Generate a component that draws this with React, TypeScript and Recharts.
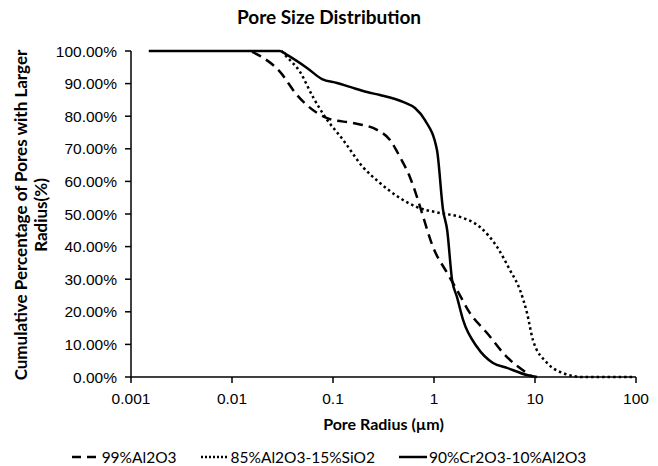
import { LineChart, Line, XAxis, YAxis } from 'recharts';

// pore radius (µm) and cumulative %
const alRadius = [0.0158, 0.0189, 0.0299, 0.044, 0.0695, 0.0933, 0.158, 0.273, 0.367, 0.46, 0.578, 0.679, 0.761, 0.977, 1.35, 1.69, 2.27, 3.35, 5.28, 8.34, 9.55];
const alPct = [99.7, 98.5, 93.6, 86.5, 81.0, 79.1, 77.9, 75.8, 72.7, 67.5, 61.3, 55.2, 50.3, 39.9, 31.9, 26.7, 19.6, 13.5, 6.1, 1.2, 0];

const siRadius = [0.031, 0.0335, 0.0471, 0.0633, 0.0834, 0.126, 0.198, 0.292, 0.46, 0.679, 1.15, 1.81, 2.85, 4.21, 5.65, 7.1, 8.34, 9.55, 13.2, 18.9, 29.9, 93.3];
const siPct = [100, 98.8, 93.6, 85.9, 79.8, 72.7, 64.4, 59.5, 54.9, 52.1, 50.3, 49.1, 46.0, 39.9, 32.8, 26.7, 19.6, 11.3, 4.3, 1.2, 0, 0];

const crRadius = [0.0015, 0.0299, 0.0351, 0.0553, 0.0778, 0.1096, 0.147, 0.217, 0.292, 0.493, 0.648, 0.814, 1.07, 1.23, 1.35, 1.51, 1.69, 1.94, 2.67, 3.84, 5.28, 8.34, 10.5];
const crPct = [100, 100, 98.8, 94.8, 91.4, 90.2, 89.0, 87.4, 86.5, 84.4, 82.5, 78.8, 69.6, 51.2, 45.1, 29.8, 24.5, 17.5, 9.2, 4.3, 2.8, 0.6, 0];

const xTicks = [0.001, 0.01, 0.1, 1, 10, 100];
const yTicks = [0, 10, 20, 30, 40, 50, 60, 70, 80, 90, 100];

const zip = (xs: number[], ys: number[]) => xs.map((x, i) => ({ x, y: ys[i] }));

const series = [
  { name: '99%Al2O3', data: zip(alRadius, alPct), dash: '10 6', legendDash: '9 6' },
  { name: '85%Al2O3-15%SiO2', data: zip(siRadius, siPct), dash: '2.5 3', legendDash: '2 2' },
  { name: '90%Cr2O3-10%Al2O3', data: zip(crRadius, crPct), dash: undefined, legendDash: undefined },
];

const labelFont = 'Lato, "Open Sans", sans-serif';
const tickStyle = { fill: '#000', fontSize: 15.5, fontFamily: '"Liberation Sans", Arial, sans-serif' };

export default function App() {
  return (
    <div style={{ position: 'relative', width: 658, height: 466, background: '#fff' }}>
      <style>{'body{margin:0}'}</style>
      <div
        style={{
          position: 'absolute', top: 5, left: 0, width: 658, textAlign: 'center',
          fontFamily: labelFont, fontWeight: 700, fontSize: 19,
        }}
      >
        Pore Size Distribution
      </div>
      <LineChart width={658} height={466} data={series[2].data} margin={{ top: 51, right: 22, bottom: 59, left: 50 }}>
        <XAxis
          dataKey="x"
          type="number"
          scale="log"
          domain={[0.001, 100]}
          ticks={xTicks}
          allowDataOverflow
          tick={tickStyle}
          tickMargin={10}
          tickFormatter={(v) => String(v)}
          stroke="#000"
          strokeWidth={1.5}
          height={30}
        />
        <YAxis
          type="number"
          domain={[0, 100]}
          ticks={yTicks}
          tick={tickStyle}
          tickMargin={8}
          tickFormatter={(v) => `${Number(v).toFixed(2)}%`}
          stroke="#000"
          strokeWidth={1.5}
          width={81}
        />
        {series.map((s) => (
          <Line
            key={s.name}
            data={s.data}
            dataKey="y"
            type="monotone"
            stroke="#000"
            strokeWidth={2.5}
            strokeDasharray={s.dash}
            dot={false}
            isAnimationActive={false}
          />
        ))}
      </LineChart>
      <div style={{ position: 'absolute', left: 0, top: 215, width: 0, height: 0 }}>
        <div
          style={{
            position: 'absolute', transform: 'translate(-50%, -50%) rotate(-90deg)', left: 31, top: 0,
            whiteSpace: 'nowrap', textAlign: 'center', fontFamily: labelFont, fontWeight: 700, fontSize: 17, lineHeight: '20px',
          }}
        >
          Cumulative Percentage of Pores with Larger
          <br />
          Radius(%)
        </div>
      </div>
      <div
        style={{
          position: 'absolute', top: 414, left: 131, width: 505, textAlign: 'center',
          fontFamily: labelFont, fontWeight: 700, fontSize: 16,
        }}
      >
        Pore Radius (µm)
      </div>
      <div
        style={{
          position: 'absolute', top: 448, left: 0, width: 658, display: 'flex', justifyContent: 'center', gap: 24,
          fontFamily: labelFont, fontSize: 15.5,
        }}
      >
        {series.map((s) => (
          <div key={s.name} style={{ display: 'flex', alignItems: 'center' }}>
            <svg width={28} height={10} style={{ marginRight: 2 }}>
              <line x1={0} y1={5} x2={28} y2={5} stroke="#000" strokeWidth={2.5} strokeDasharray={s.legendDash} />
            </svg>
            <span>{s.name}</span>
          </div>
        ))}
      </div>
    </div>
  );
}
